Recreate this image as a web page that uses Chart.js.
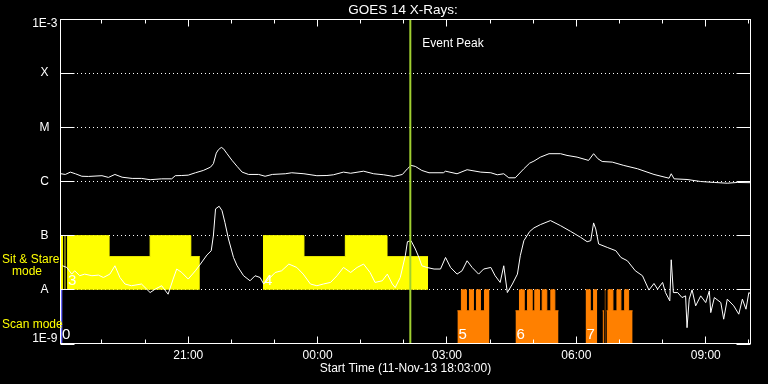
<!DOCTYPE html>
<html>
<head>
<meta charset="utf-8">
<script src="https://cdn.jsdelivr.net/npm/chart.js@4/dist/chart.umd.min.js"></script>
<style>
  html, body { margin: 0; padding: 0; background: #000; }
  canvas { display: block; }
</style>
</head>
<body>
<canvas id="xray" width="768" height="384"></canvas>
<script>
// time is minutes after 11-Nov-13 18:00
const startMin = 3;
const endMin = 963;
const hourTicks = [60, 120, 180, 240, 300, 360, 420, 480, 540, 600, 660, 720, 780, 840, 900, 960];
const xTickValues = [180, 360, 540, 720, 900];
const xTickLabels = ['21:00', '00:00', '03:00', '06:00', '09:00'];

const yTickValues = [1e-3, 1e-4, 1e-5, 1e-6, 1e-7, 1e-8, 1e-9];
const yTickLabels = ['1E-3', 'X', 'M', 'C', 'B', 'A', '1E-9'];

const eventPeak = 489; // 02:09

// 1-8 A channel
const longTime = [3, 9, 16, 23, 32, 41, 60, 69, 78, 88, 102, 115, 127, 143, 157, 162, 171, 180, 190, 201,
  211, 215, 219, 222, 226, 229, 234, 241, 248, 255, 264, 278, 287, 297, 315, 324,
  341, 359, 373, 382, 396, 406, 424, 438, 452, 466, 478, 485, 490, 496, 505, 515, 535, 538, 554, 568,
  587, 601, 610, 619, 626, 635, 647, 655,
  661, 670, 682, 698, 707, 721, 737, 744, 750, 756, 770, 786, 805, 828, 849, 852, 856, 874, 893, 912,
  930, 944, 963];
const longFlux = [1.39e-6, 1.35e-6, 1.49e-6, 1.39e-6, 1.25e-6, 1.24e-6, 1.28e-6, 1.19e-6, 1.35e-6, 1.20e-6,
  1.14e-6, 1.14e-6, 1.08e-6, 1.12e-6, 1.12e-6, 1.28e-6, 1.29e-6, 1.31e-6, 1.45e-6, 1.60e-6,
  1.84e-6, 2.13e-6, 3.34e-6, 3.86e-6, 4.26e-6, 4.03e-6, 3.26e-6, 2.45e-6, 1.90e-6, 1.49e-6,
  1.35e-6, 1.35e-6, 1.25e-6, 1.35e-6, 1.39e-6, 1.45e-6,
  1.39e-6, 1.28e-6, 1.29e-6, 1.33e-6, 1.49e-6, 1.42e-6, 1.55e-6, 1.39e-6, 1.33e-6, 1.24e-6,
  1.35e-6, 1.72e-6, 1.98e-6, 1.90e-6, 1.60e-6, 1.45e-6, 1.45e-6, 1.55e-6, 1.39e-6, 1.65e-6,
  1.49e-6, 1.45e-6, 1.33e-6, 1.39e-6, 1.17e-6, 1.17e-6, 1.72e-6, 2.18e-6,
  2.38e-6, 2.82e-6, 3.26e-6, 3.26e-6, 3.03e-6, 2.82e-6, 2.45e-6, 3.26e-6, 2.63e-6, 2.34e-6,
  2.28e-6, 1.98e-6, 1.72e-6, 1.35e-6, 1.15e-6, 1.39e-6, 1.12e-6, 1.09e-6, 1.00e-6, 0.96e-6,
  0.93e-6, 0.96e-6, 0.95e-6];

// 0.5-4 A channel
const shortTime = [5, 11, 18, 22, 29, 36, 46, 55, 62, 71, 78, 85, 92, 101, 115, 127, 134, 143, 152, 159,
  164, 171, 180, 190, 197, 206, 212, 215, 218, 223, 227, 231, 236, 243, 248, 257, 266, 273, 280, 285,
  292, 301, 310, 320,
  331, 340, 350, 359, 368, 378, 387, 396, 406, 415, 424, 433, 440, 450, 457, 464, 468, 475, 482, 485,
  490, 496, 501, 505, 512, 522, 531, 538, 545, 554, 561, 568, 575, 584, 591, 601, 607, 614, 619, 624,
  631, 638, 642, 647,
  655, 661, 670, 684, 698, 712, 726, 735, 740, 744, 747, 751, 763, 775, 782, 791, 802, 812, 821, 828,
  833, 840, 844, 850, 852, 855, 861, 867, 872, 874, 877, 881, 886, 893, 900, 905, 907, 912, 921, 925,
  930, 939, 946, 951, 956, 960, 963];
const shortFlux = [2.78e-8, 2.59e-8, 1.95e-8, 2.25e-8, 1.82e-8, 1.95e-8, 1.82e-8, 1.87e-8, 1.69e-8, 1.95e-8,
  2.78e-8, 1.69e-8, 1.28e-8, 1.19e-8, 1.28e-8, 0.89e-8, 1.03e-8, 1.19e-8, 0.83e-8, 1.58e-8,
  2.42e-8, 2.09e-8, 1.58e-8, 2.25e-8, 2.99e-8, 4.39e-8, 5.27e-8, 1.00e-7, 3.12e-7, 3.49e-7,
  2.90e-7, 1.76e-7, 8.69e-8, 3.96e-8, 2.78e-8, 1.82e-8, 1.47e-8, 1.82e-8, 1.69e-8, 1.28e-8,
  1.58e-8, 2.09e-8, 2.25e-8, 2.99e-8,
  2.59e-8, 1.95e-8, 1.28e-8, 1.19e-8, 1.28e-8, 1.37e-8, 1.82e-8, 2.59e-8, 2.09e-8, 2.59e-8,
  2.99e-8, 2.09e-8, 1.37e-8, 1.47e-8, 1.95e-8, 1.28e-8, 1.10e-8, 1.69e-8, 4.26e-8, 7.74e-8,
  8.08e-8, 5.67e-8, 3.96e-8, 2.78e-8, 2.59e-8, 2.42e-8, 2.42e-8, 3.96e-8, 2.59e-8, 1.95e-8,
  2.25e-8, 3.44e-8, 2.59e-8, 1.95e-8, 2.42e-8, 2.59e-8, 1.82e-8, 1.37e-8, 2.78e-8, 0.89e-8,
  1.28e-8, 1.95e-8, 4.26e-8, 8.08e-8,
  1.19e-7, 1.39e-7, 1.60e-7, 1.90e-7, 1.53e-7, 1.20e-7, 9.30e-8, 7.74e-8, 8.08e-8, 1.72e-7,
  1.33e-7, 7.02e-8, 6.07e-8, 5.27e-8, 3.96e-8, 3.44e-8, 2.25e-8, 1.82e-8, 0.99e-8, 1.31e-8,
  1.03e-8, 1.37e-8, 0.89e-8, 6.26e-9, 3.59e-8, 8.9e-9, 8.9e-9, 7.2e-9, 7.74e-9, 2.0e-9,
  6.73e-9, 1.0e-8, 5.06e-9, 7.74e-9, 5.82e-9, 9.58e-9, 3.8e-9, 7.2e-9, 5.82e-9, 2.87e-9,
  6.73e-9, 5.06e-9, 3.55e-9, 6.73e-9, 4.39e-9, 8.9e-9, 8.3e-9];

// Sit & Stare mode intervals (yellow)
const sitStart = [3, 7.6, 11.4, 69.9, 127, 183.6, 283.9, 341.0, 398.6, 456.6];
const sitEnd   = [5.8, 9.5, 69.9, 127, 183.6, 196.2, 341.0, 398.6, 456.6, 513.7];
const sitTop   = [1e-7, 1e-7, 1e-7, 4.1e-8, 1e-7, 4.1e-8, 1e-7, 4.1e-8, 1e-7, 4.1e-8];

// Scan mode intervals (orange)
const scanStart = [554.5, 560.1, 567.1, 571.3, 576.8, 581, 586.6, 592.2,
  635.3, 640.9, 647.5, 652.1, 658.6, 662.2, 668.8, 672.5, 678.9, 684.5, 690.1,
  732.8, 739.4, 744,
  756.5, 759.3, 762, 764.2, 770.9, 776.5, 782, 787.2, 792.7];
const scanEnd = [560.1, 567.1, 571.3, 576.8, 581, 586.6, 592.2, 599.1,
  640.9, 647.5, 652.1, 658.6, 662.2, 668.8, 672.5, 678.9, 684.5, 690.1, 695.2,
  739.4, 744, 749.1,
  758.4, 760.7, 764.2, 770.9, 776.5, 782, 787.2, 792.7, 798.3];
const scanTop = [4.1e-9, 1e-8, 4.1e-9, 1e-8, 4.1e-9, 1e-8, 4.1e-9, 1e-8,
  4.1e-9, 1e-8, 4.1e-9, 1e-8, 4.1e-9, 1e-8, 4.1e-9, 1e-8, 4.1e-9, 1e-8, 4.1e-9,
  1e-8, 4.1e-9, 1e-8,
  4.1e-9, 1e-8, 4.1e-9, 1e-8, 4.1e-9, 1e-8, 4.1e-9, 1e-8, 4.1e-9];

// first scan, blue
const firstScanStart = [3];
const firstScanEnd = [5.2];
const firstScanTop = [1e-8];

// block numbers
const blockLabels = ['0', '3', '4', '5', '6', '7'];
const blockLabelTime = [3, 11.4, 283.9, 554.5, 635.3, 732.8];
const blockLabelBand = [1e-9, 1e-8, 1e-8, 1e-9, 1e-9, 1e-9];

function blockPoints(starts, ends, tops) {
  const pts = [];
  starts.forEach((s, i) => {
    pts.push({ x: s, y: tops[i] });
    if (i === starts.length - 1 || starts[i + 1] !== ends[i]) {
      pts.push({ x: ends[i], y: tops[i] });
      pts.push({ x: ends[i], y: null });
    }
  });
  return pts;
}

const FONT = '"Liberation Sans", Arial, sans-serif';

const frame = {
  id: 'frame',
  afterDraw(chart) {
    const { ctx, chartArea: a, scales: { x, y } } = chart;
    const L = Math.round(a.left) - 0.5;
    const R = Math.round(a.right) - 0.5;
    const T = Math.round(a.top) + 0.5;
    const B = Math.round(a.bottom) - 0.5;
    ctx.save();
    ctx.strokeStyle = '#fff';
    ctx.lineWidth = 1;
    ctx.strokeRect(L, T, R - L, B - T);
    ctx.beginPath();
    hourTicks.forEach(v => {
      const px = Math.round(x.getPixelForValue(v) - 0.5) + 0.5;
      const len = xTickValues.includes(v) ? 7 : 4;
      ctx.moveTo(px, T); ctx.lineTo(px, T + len);
      ctx.moveTo(px, B); ctx.lineTo(px, B - len);
    });
    yTickValues.forEach(v => {
      const py = Math.round(y.getPixelForValue(v) - 0.5) + 0.5;
      ctx.moveTo(L, py); ctx.lineTo(L + 14, py);
      ctx.moveTo(R, py); ctx.lineTo(R - 14, py);
    });
    ctx.stroke();

    ctx.fillStyle = '#fff';
    ctx.font = '13.5px ' + FONT;
    ctx.textAlign = 'center';
    ctx.textBaseline = 'middle';
    ctx.fillText('GOES 14 X-Rays:', 403, 10);

    ctx.font = '12px ' + FONT;
    xTickValues.forEach((v, i) => {
      ctx.fillText(xTickLabels[i], x.getPixelForValue(v), B + 12);
    });
    ctx.fillText('Start Time (11-Nov-13 18:03:00)', (L + R) / 2, B + 25);

    yTickValues.forEach((v, i) => {
      const py = y.getPixelForValue(v);
      const lab = yTickLabels[i];
      if (i === 0 || i === yTickValues.length - 1) {
        ctx.textAlign = 'right';
        ctx.textBaseline = i === 0 ? 'top' : 'bottom';
        ctx.fillText(lab, L - 3, i === 0 ? py - 1 : py + 1);
      } else {
        ctx.textAlign = 'center';
        ctx.textBaseline = 'middle';
        ctx.fillText(lab, L - 16, py);
      }
    });

    ctx.textAlign = 'left';
    ctx.textBaseline = 'middle';
    ctx.fillText('Event Peak', x.getPixelForValue(eventPeak) + 12, T + 24);

    ctx.fillStyle = '#ffff00';
    ctx.fillText('Sit & Stare', 2, y.getPixelForValue(1e-7) + 24);
    ctx.fillText('mode', 12, y.getPixelForValue(1e-7) + 36);
    ctx.fillText('Scan mode', 2, y.getPixelForValue(1e-8) + 35);

    ctx.fillStyle = '#fff';
    ctx.font = '15px ' + FONT;
    ctx.textBaseline = 'alphabetic';
    blockLabels.forEach((lab, i) => {
      ctx.fillText(lab, x.getPixelForValue(blockLabelTime[i]) + 1, y.getPixelForValue(blockLabelBand[i]) - 5);
    });
    ctx.restore();
  }
};

new Chart(document.getElementById('xray'), {
  type: 'line',
  data: {
    datasets: [
      {
        data: [{ x: eventPeak, y: 1e-9 }, { x: eventPeak, y: 1e-3 }],
        borderColor: '#a0d030', borderWidth: 2, pointRadius: 0, order: 0
      },
      {
        data: longTime.map((t, i) => ({ x: t, y: longFlux[i] })),
        borderColor: '#fff', borderWidth: 1, pointRadius: 0, order: 1
      },
      {
        data: shortTime.map((t, i) => ({ x: t, y: shortFlux[i] })),
        borderColor: '#fff', borderWidth: 1, pointRadius: 0, order: 1
      },
      {
        data: blockPoints(sitStart, sitEnd, sitTop),
        stepped: true, borderColor: '#ffff00', backgroundColor: '#ffff00',
        borderWidth: 1, pointRadius: 0, fill: { value: 1e-8 }, order: 2
      },
      {
        data: blockPoints(scanStart, scanEnd, scanTop),
        stepped: true, borderColor: '#ff8000', backgroundColor: '#ff8000',
        borderWidth: 1, pointRadius: 0, fill: { value: 1e-9 }, order: 2
      },
      {
        data: blockPoints(firstScanStart, firstScanEnd, firstScanTop),
        stepped: true, borderColor: '#6464ff', backgroundColor: '#6464ff',
        borderWidth: 1, pointRadius: 0, fill: { value: 1e-9 }, order: 2
      }
    ]
  },
  options: {
    responsive: false,
    animation: false,
    layout: { padding: { left: 61, right: 17, top: 19, bottom: 40 } },
    plugins: { legend: { display: false }, tooltip: { enabled: false } },
    scales: {
      x: {
        type: 'linear', min: startMin, max: endMin,
        display: false
      },
      y: {
        type: 'logarithmic', min: 1e-9, max: 1e-3,
        afterBuildTicks: s => { s.ticks = yTickValues.map(v => ({ value: v })); },
        ticks: { display: false },
        grid: {
          drawTicks: false,
          color: c => (c.index === 0 || c.index === yTickValues.length - 1) ? 'rgba(0,0,0,0)' : '#fff'
        },
        border: { display: false, dash: [1, 3] }
      }
    }
  },
  plugins: [frame]
});
</script>
</body>
</html>
